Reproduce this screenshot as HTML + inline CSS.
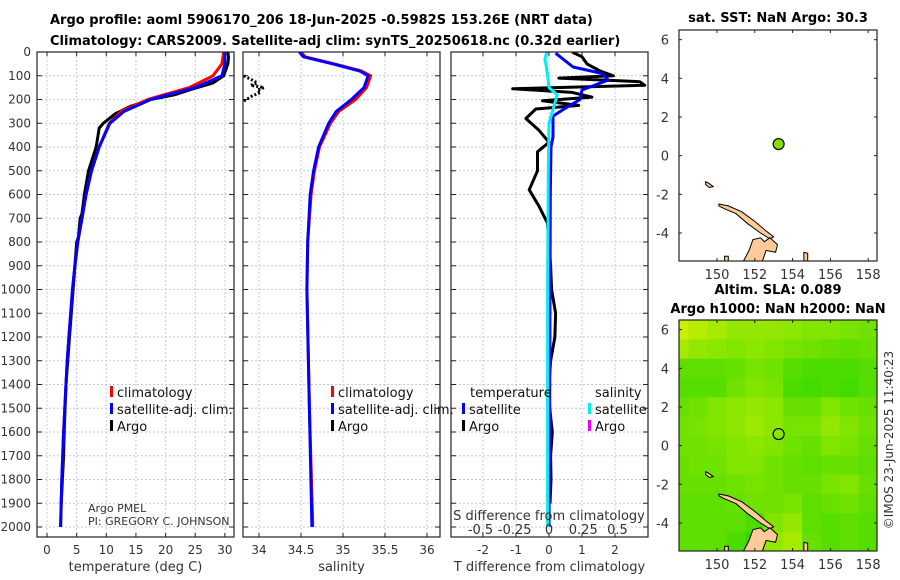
<!DOCTYPE html>
<html><head><meta charset="utf-8"><style>
body{margin:0;background:#fff;}
svg{display:block;font-family:"DejaVu Sans","Liberation Sans",sans-serif;}
.tk{font-size:12px;fill:#333;}
.tt{font-size:13px;font-weight:bold;fill:#000;}
.lg{font-size:13px;fill:#111;}
</style></head><body>
<svg id="c" width="900" height="580" viewBox="0 0 900 580" xmlns="http://www.w3.org/2000/svg">
<text class="tt" x="50" y="24">Argo profile: aoml 5906170_206 18-Jun-2025 -0.5982S 153.26E (NRT data)</text>
<text class="tt" x="50" y="45">Climatology: CARS2009. Satellite-adj clim: synTS_20250618.nc (0.32d earlier)</text>
<text class="tt" x="778" y="22" text-anchor="middle">sat. SST: NaN Argo: 30.3</text>
<text class="tt" x="778" y="294" text-anchor="middle">Altim. SLA: 0.089</text>
<text class="tt" x="778" y="313" text-anchor="middle">Argo h1000: NaN h2000: NaN</text>
<text class="tk" transform="translate(893,440) rotate(-90)" text-anchor="middle">©IMOS 23-Jun-2025 11:40:23</text>
<g id="g"></g>
</svg>
<script>
// ---- data ----
const depthTicks=[0,100,200,300,400,500,600,700,800,900,1000,1100,1200,1300,1400,1500,1600,1700,1800,1900,2000];
const tempTicks=[0,5,10,15,20,25,30];
const salTicks=[34,34.5,35,35.5,36];
const tdiffTicks=[-2,-1,0,1,2];
const tdiffLabels=["-2","-1","0","1","2"];
const sdiffTicks=[-0.5,-0.25,0,0.25,0.5];
const sdiffLabels=["-0.5","-0.25","0","0.25","0.5"];
const tDepth=[0,50,100,150,200,250,300,400,500,600,700,800,900,1000,1200,1300,1400,1600,1800,2000];
const tClim=[29.8,29.5,28,24,17,12.5,10.5,8.8,7.5,6.6,5.9,5.2,4.7,4.3,3.7,3.4,3.2,2.8,2.5,2.3];
const tSat=[30,30,29.5,25,17.5,13,10.6,8.8,7.5,6.6,5.9,5.2,4.7,4.3,3.7,3.4,3.2,2.8,2.5,2.3];
const aDepth=[0,25,50,100,130,160,180,200,230,260,300,320,400,500,600,680,700,780,800,900,1000,1200,1400,1600,1700,1800,1900];
const tArgo=[30.5,30.6,30.5,29.8,28,24,21.5,17.5,14,11.5,9.5,8.8,8.3,7,6.3,5.9,5.6,5.3,5.0,4.7,4.4,3.8,3.2,2.9,2.8,2.6,2.4];
const sDepth=[0,20,50,80,100,150,200,250,300,400,500,600,800,1000,1500,2000];
const sClim=[34.5,34.55,34.9,35.22,35.33,35.28,35.15,34.95,34.85,34.72,34.66,34.62,34.58,34.57,34.6,34.64];
const sSat=[34.48,34.53,34.88,35.2,35.3,35.25,35.1,34.92,34.83,34.71,34.65,34.61,34.58,34.57,34.6,34.63];
const saDepth=[100,115,130,140,150,160,170,185,200,210];
const sArgo=[33.82,33.9,33.98,33.9,34.06,33.98,34.02,33.92,33.85,33.8];
const dtDepth=[5,63,90,118,160,200,243,270,357,400,600,1000,1500,2000];
const dtSat=[0.2,0.73,1.6,1.8,1.0,0.94,0.42,0.12,0.12,0.06,0.04,0.03,0.02,0.0];
const dtaDepth=[0,20,50,80,100,110,125,140,155,170,190,205,225,240,280,330,380,420,500,580,650,720,800,900,1000,1100,1200,1300,1400,1500,1600,1700,1800,1900];
const dtArgo=[0.7,1.0,1.15,1.55,1.95,0.3,2.75,2.9,-1.1,0.7,1.3,-0.2,0.9,-0.4,-0.7,-0.3,0,-0.35,-0.35,-0.6,-0.3,-0.05,0.0,0.05,0.08,0.2,0.18,0.05,0.0,0.02,0.1,0.05,0.06,0.03];
const dsDepth=[0,30,60,100,150,180,220,300,500,1000,1500,2000];
const dsSat=[-0.015,-0.03,-0.02,-0.01,0,0.06,0.04,0,-0.005,-0.01,-0.01,-0.01];
const mapLonTicks=[150,152,154,156,158];
const mapLatTicks=[6,4,2,0,-2,-4];
const argoLon=153.26, argoLat=0.6;
const slaLons=[148,149,150,151,152,153,154,155,156,157,158];
const slaLats=[6,5,4,3,2,1,0,-1,-2,-3,-4,-5];
const slaRow6=[0.9,0.8,0.7,0.6,0.6,0.6,0.55,0.5,0.5,0.45,0.4];
const slaRow5=[0.7,0.6,0.55,0.5,0.55,0.5,0.45,0.4,0.35,0.3,0.35];
const slaRow4=[0.3,0.3,0.3,0.35,0.45,0.4,0.25,0.2,0.2,0.2,0.25];
const slaRow3=[0.25,0.25,0.25,0.4,0.5,0.45,0.2,0.15,0.2,0.15,0.25];
const slaRow2=[0.35,0.4,0.5,0.55,0.6,0.55,0.35,0.35,0.5,0.4,0.35];
const slaRow1=[0.4,0.45,0.5,0.55,0.65,0.55,0.45,0.45,0.6,0.5,0.4];
const slaRow0=[0.4,0.4,0.45,0.5,0.55,0.5,0.4,0.35,0.5,0.45,0.35];
const slaRowM1=[0.35,0.4,0.4,0.5,0.5,0.4,0.35,0.3,0.35,0.35,0.3];
const slaRowM2=[0.35,0.35,0.35,0.4,0.45,0.4,0.35,0.35,0.45,0.5,0.35];
const slaRowM3=[0.3,0.3,0.3,0.35,0.4,0.4,0.45,0.3,0.35,0.4,0.3];
const slaRowM4=[0.3,0.3,0.3,0.3,0.2,0.5,0.6,0.3,0.25,0.3,0.25];
const slaRowM5=[0.3,0.3,0.3,0.2,0.05,0.6,0.7,0.35,0.25,0.3,0.25];
const slaGrid=[slaRow6,slaRow5,slaRow4,slaRow3,slaRow2,slaRow1,slaRow0,slaRowM1,slaRowM2,slaRowM3,slaRowM4,slaRowM5];
const islandNewIreland=[[150.1,-2.5],[150.6,-2.6],[151.3,-2.9],[152.0,-3.4],[152.6,-3.9],[153.0,-4.2],[152.8,-4.3],[152.3,-4.0],[151.6,-3.5],[151.0,-3.0],[150.4,-2.75],[150.1,-2.6]];
const islandNewBritain=[[151.4,-5.45],[151.7,-4.9],[151.9,-4.35],[152.3,-4.25],[152.5,-4.45],[152.8,-4.25],[153.2,-4.6],[153.1,-5.0],[152.6,-4.9],[152.4,-5.45]];
const islandSmall1=[[149.4,-1.35],[149.6,-1.45],[149.8,-1.6],[149.6,-1.65],[149.4,-1.5]];
const islandSmall2=[[154.6,-5.0],[154.8,-5.05],[154.8,-5.5],[154.6,-5.5]];
const islandSmall3=[[150.4,-5.2],[150.6,-5.2],[150.6,-5.5],[150.4,-5.5]];
// ---- drawing ----
const NS='http://www.w3.org/2000/svg';
const G=document.getElementById('g');
function mk(t,a,p){const e=document.createElementNS(NS,t);for(const k in a)e.setAttribute(k,a[k]);(p||G).appendChild(e);return e;}
const yD=d=>52+d*0.2375;
const panels=[
 {x0:37,x1:234,f:v=>47+v*5.93,ticks:tempTicks,labels:tempTicks.map(String),title:'temperature (deg C)',name:'temperature-panel'},
 {x0:243,x1:440,f:v=>259+(v-34)*84,ticks:salTicks,labels:salTicks.map(String),title:'salinity',name:'salinity-panel'},
 {x0:451,x1:648,f:v=>549+v*33,ticks:tdiffTicks,labels:tdiffLabels,title:'T difference from climatology',name:'difference-panel'}];
const yB=537;
panels.forEach((p,pi)=>{
 const g=mk('g',{});
 p.g=g;
 p.ticks.forEach(v=>{const x=p.f(v);
  const l=mk('line',{x1:x,x2:x,y1:52,y2:yB,stroke:'#c4c8e8','stroke-dasharray':'2,2','stroke-width':1},g);
  
  mk('line',{x1:x,x2:x,y1:yB,y2:yB-4,stroke:'#222'},g);mk('line',{x1:x,x2:x,y1:52,y2:56,stroke:'#222'},g);});
 p.ticks.forEach((v,i)=>{const t=mk('text',{x:p.f(v),y:554,'text-anchor':'middle',class:'tk'},g);t.textContent=p.labels[i];
  });
 depthTicks.forEach(d=>{const y=yD(d);
  mk('line',{x1:p.x0,x2:p.x1,y1:y,y2:y,stroke:'#c4c8e8','stroke-dasharray':'2,2'},g);
  mk('line',{x1:p.x0,x2:p.x0+5,y1:y,y2:y,stroke:'#222'},g);mk('line',{x1:p.x1-5,x2:p.x1,y1:y,y2:y,stroke:'#222'},g);});
 const tt=mk('text',{x:(p.x0+p.x1)/2,y:571,'text-anchor':'middle',class:'tk',style:'font-size:13px'},g);tt.textContent=p.title;
 
});
depthTicks.forEach(d=>{const t=mk('text',{x:31,y:yD(d)+4,'text-anchor':'end',class:'tk'});t.textContent=String(d);
 });
function clipFor(p,id){const c=mk('clipPath',{id});mk('rect',{x:p.x0,y:52,width:p.x1-p.x0,height:yB-52},c);return 'url(#'+id+')';}
function line(p,ds,vs,col,w,name,dash){
 const pts=ds.map((d,i)=>p.f(vs[i]).toFixed(1)+','+yD(d).toFixed(1)).join(' ');
 const a={points:pts,fill:'none',stroke:col,'stroke-width':w,'stroke-linejoin':'round','clip-path':p.clip};
 if(dash)a['stroke-dasharray']=dash;
 const e=mk('polyline',a,p.g);return e;}
panels.forEach((p,i)=>p.clip=clipFor(p,'cp'+i));
line(panels[0],aDepth,tArgo,'#000',3,'argo-temperature-line');
line(panels[0],tDepth,tClim,'#f00',3,'climatology-temperature-line');
line(panels[0],tDepth,tSat,'#00f',3,'satellite-temperature-line');
line(panels[1],sDepth,sClim,'#f00',3,'climatology-salinity-line');
line(panels[1],sDepth,sSat,'#00f',3,'satellite-salinity-line');
line(panels[1],saDepth,sArgo,'#000',3,'argo-salinity-line','2,2');
const sScale=v=>v*137/33;
line(panels[2],dtaDepth,dtArgo,'#000',3,'argo-temp-diff-line');
line(panels[2],dtDepth,dtSat,'#00f',3,'satellite-temp-diff-line');
line(panels[2],dsDepth,dsSat.map(sScale),'#0ee',3,'satellite-sal-diff-line');
const st=mk('text',{x:549,y:520,'text-anchor':'middle',class:'tk',style:'font-size:13px'});st.textContent='S difference from climatology';

sdiffTicks.forEach((v,i)=>{const t=mk('text',{x:549+sScale(v)*33,y:534,'text-anchor':'middle',class:'tk',style:'font-size:13px'});t.textContent=sdiffLabels[i];
 });
panels.forEach(p=>{mk('rect',{x:p.x0,y:52,width:p.x1-p.x0,height:yB-52,fill:'none',stroke:'#222','stroke-width':1.2},p.g);});
function leg(x,y,col,txt,name){const g=mk('g',{});
 mk('rect',{x:x,y:y-11,width:3,height:11,fill:col},g);const t=mk('text',{x:x+7,y:y,class:'lg'},g);t.textContent=txt;}
leg(110,397,'#f00','climatology','legend-climatology');leg(110,414,'#00f','satellite-adj. clim.','legend-satellite');leg(110,431,'#000','Argo','legend-argo');
leg(331,397,'#f00','climatology','legend-climatology-sal');leg(331,414,'#00f','satellite-adj. clim.','legend-satellite-sal');leg(331,431,'#000','Argo','legend-argo-sal');
let t=mk('text',{x:470,y:397,class:'lg'});t.textContent='temperature';
t=mk('text',{x:595,y:397,class:'lg'});t.textContent='salinity';
leg(462,414,'#00f','satellite','legend-t-satellite');leg(462,431,'#000','Argo','legend-t-argo');
leg(588,414,'#0ee','satellite','legend-s-satellite');leg(588,431,'#e0e','Argo','legend-s-argo');
t=mk('text',{x:88,y:512,class:'tk',style:'font-size:11px'});t.textContent='Argo PMEL';
t=mk('text',{x:88,y:525,class:'tk',style:'font-size:11px'});t.textContent='PI: GREGORY C. JOHNSON';
function map(y0,y1,name,sla){
 const x0=679,x1=877;const fx=l=>717+(l-150)*18.9;
 const sy=(y1-y0)/(6.5+5.45);const gy=a=>y0+(6.5-a)*sy;
 const g=mk('g',{});
 const cid='mc'+name;const c=mk('clipPath',{id:cid});mk('rect',{x:x0,y:y0,width:x1-x0,height:y1-y0},c);
 mk('rect',{x:x0,y:y0,width:x1-x0,height:y1-y0,fill:'#fff'},g);
 if(sla){slaGrid.forEach((row,ri)=>row.forEach((v,ci)=>{
  const lo=slaLons[ci],la=slaLats[ri];
  const r=Math.round(40+v*180),gg=Math.round(215+v*27);
  const e=mk('rect',{x:fx(lo-0.5),y:gy(la+0.5),width:18.9+0.5,height:sy+0.5,fill:`rgb(${r},${gg},0)`,'clip-path':`url(#${cid})`},g);
  }));}
 [islandNewIreland,islandNewBritain,islandSmall1,islandSmall2,islandSmall3].forEach(poly=>{
  const e=mk('polygon',{points:poly.map(p=>fx(p[0]).toFixed(1)+','+gy(p[1]).toFixed(1)).join(' '),fill:'#ffcc99',stroke:'#000','stroke-width':1,'clip-path':`url(#${cid})`},g);
  });
 const m=mk('circle',{cx:fx(argoLon),cy:gy(argoLat),r:5.5,fill:sla?'none':'#88dd00',stroke:'#000','stroke-width':1.2},g);
 
 mk('rect',{x:x0,y:y0,width:x1-x0,height:y1-y0,fill:'none',stroke:'#222','stroke-width':1.2},g);
 mapLonTicks.forEach(l=>{const x=fx(l);mk('line',{x1:x,x2:x,y1:y0,y2:y0+3,stroke:'#222'},g);mk('line',{x1:x,x2:x,y1:y1,y2:y1-3,stroke:'#222'},g);
  const t=mk('text',{x:x,y:y1+18,'text-anchor':'middle',class:'tk',style:'font-size:13px'},g);t.textContent=String(l);
  });
 mapLatTicks.forEach(a=>{const y=gy(a);mk('line',{x1:x0,x2:x0+3,y1:y,y2:y,stroke:'#222'},g);mk('line',{x1:x1,x2:x1-3,y1:y,y2:y,stroke:'#222'},g);
  const t=mk('text',{x:x0-10,y:y+5,'text-anchor':'end',class:'tk',style:'font-size:13px'},g);t.textContent=String(a);
  });
}
map(30,261,'sst-map',false);
map(320,551,'sla-map',true);
</script>
</body></html>
